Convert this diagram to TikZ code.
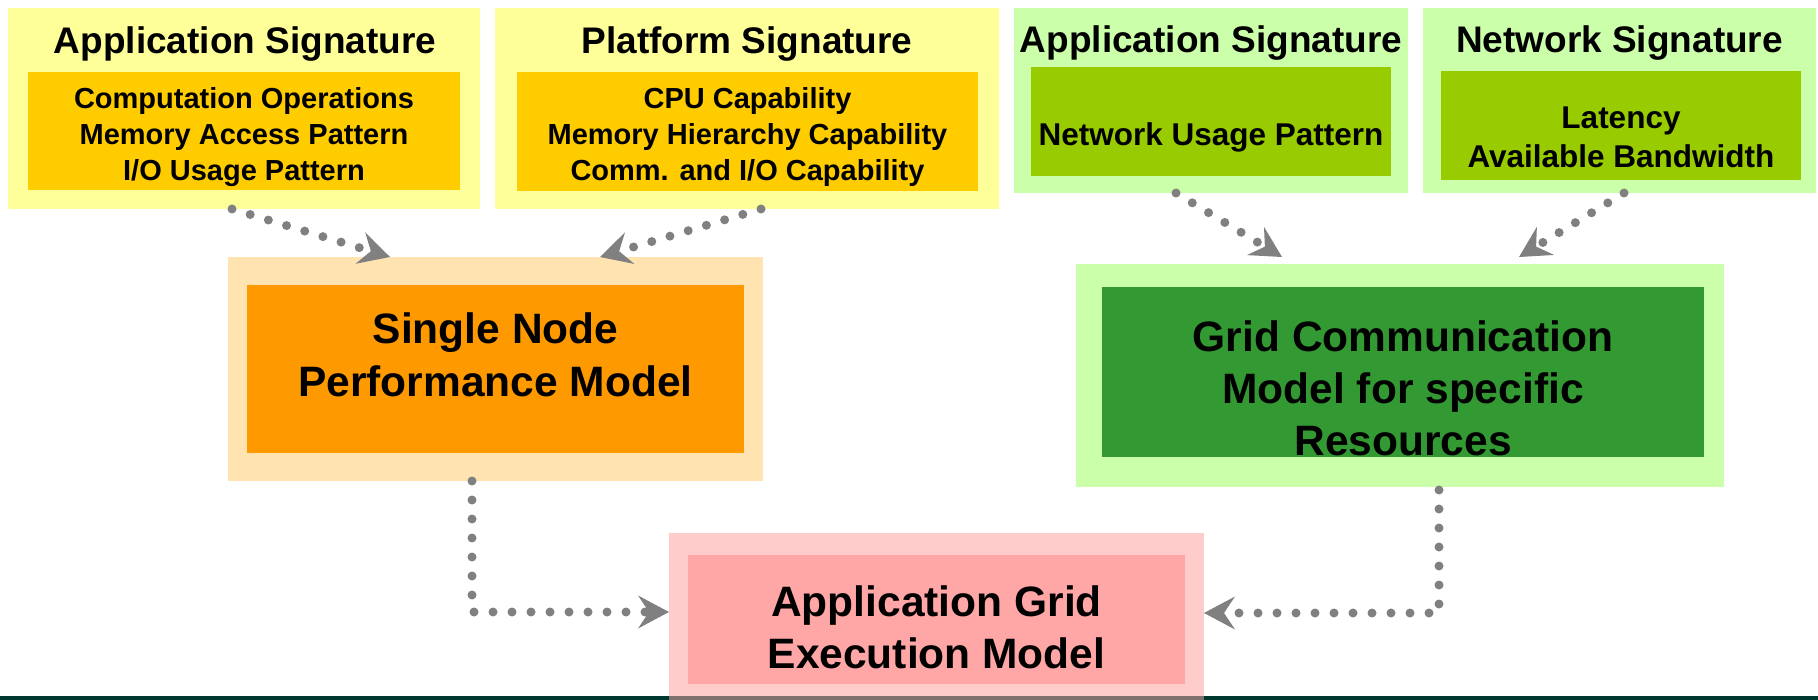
\documentclass[tikz,border=0pt]{standalone}
\usepackage{fontspec}
\setmainfont{Liberation Sans}
\usetikzlibrary{arrows.meta}

\definecolor{sigyellow}{HTML}{FFFF99}
\definecolor{siggold}{HTML}{FFCC00}
\definecolor{siggreen}{HTML}{CCFFAA}
\definecolor{siglime}{HTML}{99CC00}
\definecolor{nodepeach}{HTML}{FFE4B2}
\definecolor{nodeorange}{HTML}{FF9900}
\definecolor{commgreen}{HTML}{339933}
\definecolor{execpink}{HTML}{FFCCCC}
\definecolor{execrose}{HTML}{FFA6A6}
\definecolor{flowgray}{HTML}{808080}
\definecolor{barteal}{HTML}{00382F}
\definecolor{barshade}{HTML}{7F716E}

% multi-line text nodes are placed by the baseline of their last line
\tikzset{
  box/.style={draw=none, inner sep=0pt, outer sep=0pt, anchor=north west},
  sigtitle/.style={anchor=base, inner sep=0pt, font=\fontsize{37}{44}\selectfont\bfseries},
  sigitems/.style={anchor=base, inner sep=0pt, align=center, font=\fontsize{29}{36}\selectfont\bfseries},
  netitems/.style={anchor=base, inner sep=0pt, align=center, font=\fontsize{31.5}{39}\selectfont\bfseries},
  modeltext/.style={anchor=base, inner sep=0pt, align=center, font=\fontsize{42.5}{52}\selectfont\bfseries},
  flow/.style={draw=flowgray, line width=9pt, line cap=round,
    dash pattern=on 0pt off 19pt,
    -{Stealth[length=31pt, width=33pt, inset=11pt, line width=0pt, fill=flowgray]}},
}

\begin{document}
\begin{tikzpicture}[x=1pt, y=-1pt]
  \useasboundingbox (0,0) rectangle (1818,700);

  % signature boxes
  \node[box, fill=sigyellow, minimum width=472pt, minimum height=201pt] (as1) at (8,8) {};
  \node[box, fill=siggold, minimum width=432pt, minimum height=118pt] (as1in) at (28,72) {};
  \node[box, fill=sigyellow, minimum width=504pt, minimum height=201pt] (ps) at (495,8) {};
  \node[box, fill=siggold, minimum width=461pt, minimum height=119pt] (psin) at (517,72) {};
  \node[box, fill=siggreen, minimum width=394pt, minimum height=185pt] (as2) at (1014,8) {};
  \node[box, fill=siglime, minimum width=360pt, minimum height=109pt] (as2in) at (1031,67) {};
  \node[box, fill=siggreen, minimum width=393pt, minimum height=185pt] (ns) at (1423,8) {};
  \node[box, fill=siglime, minimum width=360pt, minimum height=109pt] (nsin) at (1441,71) {};

  % model boxes
  \node[box, fill=nodepeach, minimum width=535pt, minimum height=224pt] (sn) at (228,257) {};
  \node[box, fill=nodeorange, minimum width=497pt, minimum height=168pt] (snin) at (247,285) {};
  \node[box, fill=siggreen, minimum width=648pt, minimum height=223pt] (gc) at (1076,264) {};
  \node[box, fill=commgreen, minimum width=602pt, minimum height=170pt] (gcin) at (1102,287) {};
  \node[box, fill=execpink, minimum width=535pt, minimum height=163pt] (ag) at (669,533) {};
  \node[box, fill=execrose, minimum width=497pt, minimum height=129pt] (agin) at (688,555) {};

  % footer bar
  \fill[barteal] (0,696) rectangle (1818,700);
  \fill[barshade] (669,696) rectangle (1204,700);

  % signature texts
  \node[sigtitle] (as1t) at (245,54) {Application Signature};
  \node[sigitems] (as1i) at (244,181) {Computation Operations\\Memory Access Pattern\\I/O Usage Pattern};
  \node[sigtitle] (pst) at (747,54) {Platform Signature};
  \node[sigitems] (psi) at (747.5,181) {CPU Capability\\Memory Hierarchy Capability\\Comm. and I/O Capability};
  \node[sigtitle] (as2t) at (1211,53) {Application Signature};
  \node[netitems] (as2i) at (1211,146) {Network Usage Pattern};
  \node[sigtitle] (nst) at (1619.5,53) {Network Signature};
  \node[netitems] (nsi) at (1621,168) {Latency\\Available Bandwidth};

  % model texts
  \node[modeltext] (snt) at (495.5,396) {Single Node\\Performance Model};
  \node[modeltext] (gct) at (1403,455) {Grid Communication\\Model for specific\\Resources};
  \node[modeltext] (agt) at (936.5,668) {Application Grid\\Execution Model};

  % connectors
  \draw[flow] ([xshift=-12pt]as1.south) -- ([xshift=-105.5pt]sn.north);
  \draw[flow] ([xshift=14pt]ps.south) -- ([xshift=104.5pt]sn.north);
  \draw[flow] ([xshift=-35pt]as2.south) -- ([xshift=-118pt, yshift=7pt]gc.north);
  \draw[flow] ([xshift=4.5pt]ns.south) -- ([xshift=119pt, yshift=7pt]gc.north);
  \draw[flow] ([xshift=-23.5pt]sn.south) |- ([yshift=2.5pt]ag.west);
  \draw[flow] ([xshift=39pt, yshift=-3pt]gc.south) |- ([yshift=1.5pt]ag.east);
\end{tikzpicture}
\end{document}
